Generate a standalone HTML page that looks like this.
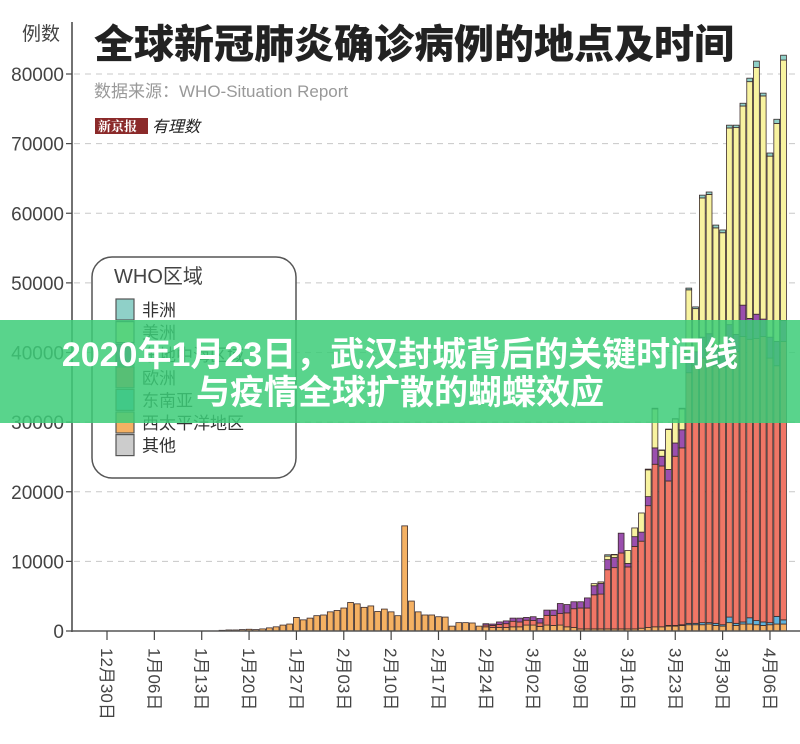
<!DOCTYPE html>
<html><head><meta charset="utf-8">
<style>
html,body{margin:0;padding:0;background:#fff;}
body{width:800px;height:744px;overflow:hidden;position:relative;font-family:"Liberation Sans","Noto Sans CJK SC",sans-serif;}
svg{position:absolute;left:0;top:0;}
#overlay{position:absolute;left:0;top:320px;width:800px;height:103px;background:rgba(60,205,120,0.85);}
.bt{position:absolute;left:0;width:800px;text-align:center;color:#fff;font-weight:bold;font-size:34px;line-height:40px;font-family:"Liberation Sans","Noto Sans CJK SC",sans-serif;}
</style></head>
<body>
<svg id="chart" width="800" height="744">
  <g id="grid"></g>
  <g id="bars"></g>
  <g id="axes"></g>
  <text x="22" y="40" font-size="19" fill="#444" font-family="Liberation Sans, Noto Sans CJK SC, sans-serif">例数</text>
  <text x="94" y="58" font-size="40" font-weight="900" fill="#222" font-family="Noto Sans CJK SC, sans-serif">全球新冠肺炎确诊病例的地点及时间</text>
  <text x="94" y="97" font-size="17" fill="#999" font-family="Liberation Sans, Noto Sans CJK SC, sans-serif">数据来源：WHO-Situation Report</text>
  <g>
    <rect x="95" y="118" width="53" height="16" fill="#8b2a2a"/>
    <text x="98" y="131" font-size="13" font-weight="bold" fill="#fff" font-family="Noto Serif CJK SC, serif">新京报</text>
    <text x="152" y="132" font-size="16" font-style="italic" fill="#222" font-family="Noto Sans CJK SC, sans-serif">有理数</text>
  </g>
  <g id="legend">
    <rect x="92" y="257" width="204" height="221" rx="20" fill="#fff" stroke="#555" stroke-width="1.5"/>
    <text x="114" y="283" font-size="20" fill="#444" font-family="Liberation Sans, Noto Sans CJK SC, sans-serif">WHO区域</text>
  </g>
</svg>
<div id="overlay"></div>
<div class="bt" style="top:335px">2020年1月23日，武汉封城背后的关键时间线</div>
<div class="bt" style="top:373px">与疫情全球扩散的蝴蝶效应</div>
<script>
// categories (dates, month/day)
const categories = ["1/16","1/17","1/18","1/19","1/20","1/21","1/22","1/23","1/24","1/25","1/26","1/27","1/28","1/29","1/30","1/31","2/01","2/02","2/03","2/04","2/05","2/06","2/07","2/08","2/09","2/10","2/11","2/12","2/13","2/14","2/15","2/16","2/17","2/18","2/19","2/20","2/21","2/22","2/23","2/24","2/25","2/26","2/27","2/28","2/29","3/01","3/02","3/03","3/04","3/05","3/06","3/07","3/08","3/09","3/10","3/11","3/12","3/13","3/14","3/15","3/16","3/17","3/18","3/19","3/20","3/21","3/22","3/23","3/24","3/25","3/26","3/27","3/28","3/29","3/30","3/31","4/01","4/02","4/03","4/04","4/05","4/06","4/07","4/08"];
// West Pacific (orange)
const wpro = [100,150,150,200,250,200,300,450,600,850,1000,1950,1600,1850,2200,2300,2750,2950,3300,4100,3900,3400,3600,2800,3150,2750,2200,15100,4300,2750,2300,2300,2050,2000,700,1200,1200,1150,700,600,500,500,500,600,600,850,850,650,850,800,850,600,500,300,300,300,300,300,300,300,300,300,400,500,600,600,700,700,800,900,900,900,1000,800,700,1200,800,1000,1000,900,800,900,1000,1000];
// South-East Asia (blue)
const searo = [0,0,0,0,0,0,0,0,0,0,0,0,0,0,0,0,0,0,0,0,0,0,0,0,0,0,0,0,0,0,0,0,0,0,0,0,0,0,0,0,0,0,0,0,0,0,0,0,0,0,0,0,0,0,0,0,0,0,0,0,0,0,0,0,0,0,100,100,100,200,200,300,200,300,200,800,300,300,900,600,500,300,1100,600];
// Europe (red)
const euro = [0,0,0,0,0,0,0,0,0,0,0,0,0,0,0,0,0,0,0,0,0,0,0,0,0,0,0,0,0,0,0,0,0,0,0,0,0,0,0,250,300,450,550,800,700,700,650,500,1400,1450,1650,2000,2700,3000,3000,4900,5000,8500,8800,10900,8900,11850,12500,17500,23350,23100,20750,24300,25400,36000,37000,38000,39000,37000,37000,38000,39000,41000,40000,40500,41000,38000,36000,40000];
// Eastern Mediterranean (purple)
const emro = [0,0,0,0,0,0,0,0,0,0,0,0,0,0,0,0,0,0,0,0,0,0,0,0,0,0,0,0,0,0,0,0,0,0,0,0,0,0,0,200,200,350,400,450,550,400,550,650,750,750,1450,1200,1000,900,1450,1300,1550,1450,1450,2850,500,1400,1300,1300,2350,1400,1650,1900,2600,2500,2000,3000,2500,2500,2200,4000,2500,4500,3000,3500,2500,3000,3500,3000];
// Americas (yellow)
const amro = [0,0,0,0,0,0,0,0,0,0,0,0,0,0,0,0,0,0,0,0,0,0,0,0,0,0,0,0,0,0,0,0,0,0,0,0,0,0,0,0,0,0,0,0,0,0,0,0,0,0,0,0,0,0,0,300,200,500,400,0,1850,1250,2750,3850,5600,850,5750,3450,3000,9400,6200,20000,20000,17300,17100,28250,29700,28600,34000,35450,32050,26000,31300,37400];
// Africa (teal)
const afro = [0,0,0,0,0,0,0,0,0,0,0,0,0,0,0,0,0,0,0,0,0,0,0,0,0,0,0,0,0,0,0,0,0,0,0,0,0,0,0,0,0,0,0,0,0,0,0,0,0,0,0,0,0,0,0,0,0,200,50,0,0,0,0,100,100,50,50,50,100,250,250,400,350,400,400,400,350,400,500,900,400,450,600,700];
const yTicks = [0,10000,20000,30000,40000,50000,60000,70000,80000];
const xTickLabels = ["12月30日","1月06日","1月13日","1月20日","1月27日","2月03日","2月10日","2月17日","2月24日","3月02日","3月09日","3月16日","3月23日","3月30日","4月06日"];
const xTickDates = ["12/30","1/06","1/13","1/20","1/27","2/03","2/10","2/17","2/24","3/02","3/09","3/16","3/23","3/30","4/06"];
const legendNames = ["非洲","美洲","东地中海区域","欧洲","东南亚","西太平洋地区","其他"];

const NS="http://www.w3.org/2000/svg";
const colors={afro:"#8fd0c8",amro:"#f8f3a0",emro:"#9a4fae",euro:"#f07666",searo:"#5fb3dd",wpro:"#f5b163",other:"#cccccc"};
const legendColors=[colors.afro,colors.amro,colors.emro,colors.euro,colors.searo,colors.wpro,colors.other];
const y0=631, pxPer=(631-74)/80000;
function yScale(v){return y0-v*pxPer;}
const monthStart={12:-1,1:2,2:33,3:62,4:93};
function dayIndex(s){const p=s.split("/");const m=+p[0],d=+p[1];if(m===12)return d-30;return monthStart[m]+d-1;}
function xScale(s){return 107+dayIndex(s)*6.765;}
function mk(tag,attrs,parent){const e=document.createElementNS(NS,tag);for(const k in attrs)e.setAttribute(k,attrs[k]);parent.appendChild(e);return e;}

const grid=document.getElementById("grid");
const axes=document.getElementById("axes");
yTicks.forEach(t=>{
  const y=yScale(t);
  if(t>0){const l=mk("line",{x1:74,x2:800,y1:y,y2:y,stroke:"#c8c8c8","stroke-width":1,"stroke-dasharray":"6,5"},grid);
    
    }
  const tk=mk("line",{x1:66,x2:72,y1:y,y2:y,stroke:"#444","stroke-width":1.2},axes);
  
  
  const tx=mk("text",{x:64,y:y+7,"text-anchor":"end","font-size":19,fill:"#444","font-family":"Liberation Sans, sans-serif"},axes);
  tx.textContent=t;
  
  
});
const ya=mk("line",{x1:72,x2:72,y1:22,y2:632,stroke:"#444","stroke-width":1.5},axes);



const barsG=document.getElementById("bars");
const order=[["wpro",wpro],["searo",searo],["euro",euro],["emro",emro],["amro",amro],["afro",afro]];
categories.forEach((c,i)=>{
  const cx=xScale(c);let acc=0;
  order.forEach(([k,arr])=>{
    const v=arr[i];if(!v)return;
    const r=mk("rect",{x:cx-2.9,width:5.8,y:yScale(acc+v),height:v*pxPer,fill:colors[k],stroke:"#3a2a2a","stroke-width":0.8},barsG);
    
    
    acc+=v;
  });
});
const xa=mk("line",{x1:72,x2:800,y1:y0,y2:y0,stroke:"#555","stroke-width":1.5},axes);


xTickDates.forEach((d,i)=>{
  const x=xScale(d);
  const tk=mk("line",{x1:x,x2:x,y1:y0,y2:y0+9,stroke:"#444","stroke-width":1.2},axes);
  
  
  const t=mk("text",{x:x,y:648,"font-size":17,fill:"#444","font-family":"Liberation Sans, Noto Sans CJK SC, sans-serif",transform:"rotate(90 "+x+" 648) translate(0 6)"},axes);
  t.textContent=xTickLabels[i];
  
  
});
const lg=document.getElementById("legend");
legendNames.forEach((n,i)=>{
  const y=299+i*22.6;
  const r=mk("rect",{x:116,y:y,width:18,height:21,fill:legendColors[i],stroke:"#555","stroke-width":1.2},lg);
  
  
  const t=mk("text",{x:142,y:y+17,"font-size":17,fill:"#333","font-family":"Liberation Sans, Noto Sans CJK SC, sans-serif"},lg);
  t.textContent=n;
  
  
});
</script>
</body></html>
